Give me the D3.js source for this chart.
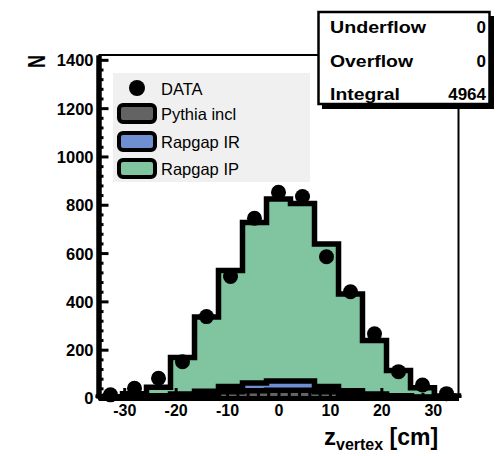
<!DOCTYPE html>
<html>
<head>
<meta charset="utf-8">
<script src="https://cdn.jsdelivr.net/npm/d3@7"></script>
<style>
  html, body { margin: 0; padding: 0; background: #ffffff; }
  svg { display: block; }
</style>
</head>
<body>
<svg id="chart" width="498" height="456"></svg>
<script>
// ---------------- data ----------------
const binEdges = [-35, -30.33, -25.67, -21, -16.33, -11.67, -7, -2.33, 2.33, 7, 11.67, 16.33, 21, 25.67, 30.33, 35];
const binCenters = [-32.67, -28, -23.33, -18.67, -14, -9.33, -4.67, 0, 4.67, 9.33, 14, 18.67, 23.33, 28, 32.67];
const dataCounts = [13, 40, 82, 150, 337, 503, 744, 852, 834, 585, 440, 266, 109, 54, 18];
const pythiaIncl = [1, 2, 4, 8, 14, 26, 30, 32, 32, 26, 17, 10, 5, 2, 1];
const rapgapIR   = [1, 3, 5, 9, 14, 22, 32, 38, 38, 22, 13, 7, 4, 2, 1];
const rapgapIP   = [3, 13, 36, 151, 307, 480, 665, 754, 735, 590, 401, 221, 105, 38, 6];
const xTicks = [-30, -20, -10, 0, 10, 20, 30];
const yTicks = [0, 200, 400, 600, 800, 1000, 1200, 1400];
const legendLabels = ["DATA", "Pythia incl", "Rapgap IR", "Rapgap IP"];
const statLabels = ["Underflow", "Overflow", "Integral"];
const statValues = ["0", "0", "4964"];

// ---------------- setup ----------------
const FONT = "'Liberation Sans', Arial, Helvetica, sans-serif";
const colGreen = "#80c4a0", colBlue = "#6e90d2", colGrey = "#636363";
const svg = d3.select("#chart");
const x = d3.scaleLinear().domain([-35, 35]).range([98.5, 458.5]);
const y = d3.scaleLinear().domain([0, 1420]).range([398, 55]);

// frame (top & right)
svg.append("path")
  .attr("d", `M${x(-35)},${y(1420)} H${x(35)} V${y(0)}`)
  .attr("fill", "none").attr("stroke", "#000").attr("stroke-width", 2);

// stacked histograms
const stackLower = pythiaIncl.map((v, i) => v + rapgapIR[i]);
const stackTotal = stackLower.map((v, i) => v + rapgapIP[i]);
function stepPath(vals) {
  let p = `M${x(binEdges[0])},${y(0)}`;
  vals.forEach((v, i) => {
    p += ` V${y(v)} H${x(binEdges[i + 1])}`;
  });
  p += ` V${y(0)}`;
  return p;
}
const hists = [
  { vals: stackTotal, col: colGreen },
  { vals: stackLower, col: colBlue },
  { vals: pythiaIncl, col: colGrey }
];
hists.forEach(h => {
  svg.append("path").attr("d", stepPath(h.vals))
    .attr("fill", h.col).attr("stroke", "none");
  svg.append("path").attr("d", stepPath(h.vals))
    .attr("fill", "none").attr("stroke", "#000")
    .attr("stroke-width", 5.5).attr("stroke-linejoin", "miter");
});

// data points
svg.append("g").selectAll("circle").data(dataCounts).join("circle")
  .attr("cx", (d, i) => x(binCenters[i]))
  .attr("cy", d => y(d))
  .attr("r", 7.5)
  .attr("fill", "#000");

// axes
const minorX = d3.range(-34, 35, 2).filter(v => v % 10 !== 0);
const minorY = d3.range(0, 1420, 40).filter(v => v % 200 !== 0);

const gxMinor = svg.append("g").attr("transform", `translate(0,${y(0)})`)
  .call(d3.axisBottom(x).tickValues(minorX).tickSizeInner(-5).tickSizeOuter(0).tickFormat(""));
const gx = svg.append("g").attr("transform", `translate(0,${y(0)})`)
  .call(d3.axisBottom(x).tickValues(xTicks).tickSizeInner(-10).tickSizeOuter(0)
    .tickPadding(7).tickFormat(d => String(d)));
const gyMinor = svg.append("g").attr("transform", `translate(${x(-35)},0)`)
  .call(d3.axisLeft(y).tickValues(minorY).tickSizeInner(-5).tickSizeOuter(0).tickFormat(""));
const gy = svg.append("g").attr("transform", `translate(${x(-35)},0)`)
  .call(d3.axisLeft(y).tickValues(yTicks).tickSizeInner(-10).tickSizeOuter(0)
    .tickPadding(5).tickFormat(d => String(d)));

[gxMinor, gx, gyMinor, gy].forEach(g => {
  g.selectAll(".domain").attr("stroke", "#000").attr("stroke-width", 5);
  g.selectAll(".tick line").attr("stroke", "#000").attr("stroke-width", 3);
});
gx.selectAll("text").attr("font-family", FONT).attr("font-weight", "bold")
  .attr("font-size", 16).attr("fill", "#000");
gy.selectAll("text").attr("font-family", FONT).attr("font-weight", "bold")
  .attr("font-size", 16.5).attr("fill", "#000").attr("dy", "0.36em");

// legend
const leg = svg.append("g");
leg.append("rect").attr("x", 113).attr("y", 73).attr("width", 197).attr("height", 109)
  .attr("fill", "#f0f0f0");
leg.append("circle").attr("cx", 137).attr("cy", 88).attr("r", 8).attr("fill", "#000");
const swatchCols = [colGrey, colBlue, colGreen];
const swatchY = [105, 133, 160];
swatchCols.forEach((c, i) => {
  leg.append("rect").attr("x", 119).attr("y", swatchY[i]).attr("width", 36).attr("height", 17)
    .attr("rx", 4).attr("fill", c).attr("stroke", "#000").attr("stroke-width", 4);
});
const legBase = [95, 120, 148, 175];
legendLabels.forEach((t, i) => {
  leg.append("text").attr("x", 161).attr("y", legBase[i]).text(t)
    .attr("font-family", FONT).attr("font-size", 16.5).attr("fill", "#000");
});

// stats box
const st = svg.append("g");
st.append("rect").attr("x", 322).attr("y", 16).attr("width", 172).attr("height", 93).attr("fill", "#000");
st.append("rect").attr("x", 318.5).attr("y", 12).attr("width", 171).attr("height", 92)
  .attr("fill", "#fff").attr("stroke", "#000").attr("stroke-width", 2.5);
const statBase = [33, 67, 100];
statLabels.forEach((t, i) => {
  st.append("text").attr("x", 330).attr("y", statBase[i]).text(t)
    .attr("font-family", FONT).attr("font-weight", "bold").attr("font-size", 16.5)
    .attr("textLength", [96, 83, 70][i]).attr("lengthAdjust", "spacingAndGlyphs");
  st.append("text").attr("x", 486).attr("y", statBase[i]).text(statValues[i])
    .attr("text-anchor", "end")
    .attr("font-family", FONT).attr("font-weight", "bold").attr("font-size", 17);
});

// axis titles
const xt = svg.append("text").attr("x", 324).attr("y", 445)
  .attr("font-family", FONT).attr("font-weight", "bold").attr("fill", "#000");
xt.append("tspan").attr("font-size", 24).text("z");
xt.append("tspan").attr("font-size", 16).attr("dy", 5).text("vertex");
xt.append("tspan").attr("font-size", 23).attr("dy", -5).text(" [cm]");

svg.append("text")
  .attr("transform", "translate(45,55) rotate(-90)")
  .attr("text-anchor", "end")
  .attr("font-family", FONT).attr("font-weight", "bold").attr("font-size", 24)
  .attr("textLength", 13).attr("lengthAdjust", "spacingAndGlyphs")
  .text("N");
</script>
</body>
</html>
